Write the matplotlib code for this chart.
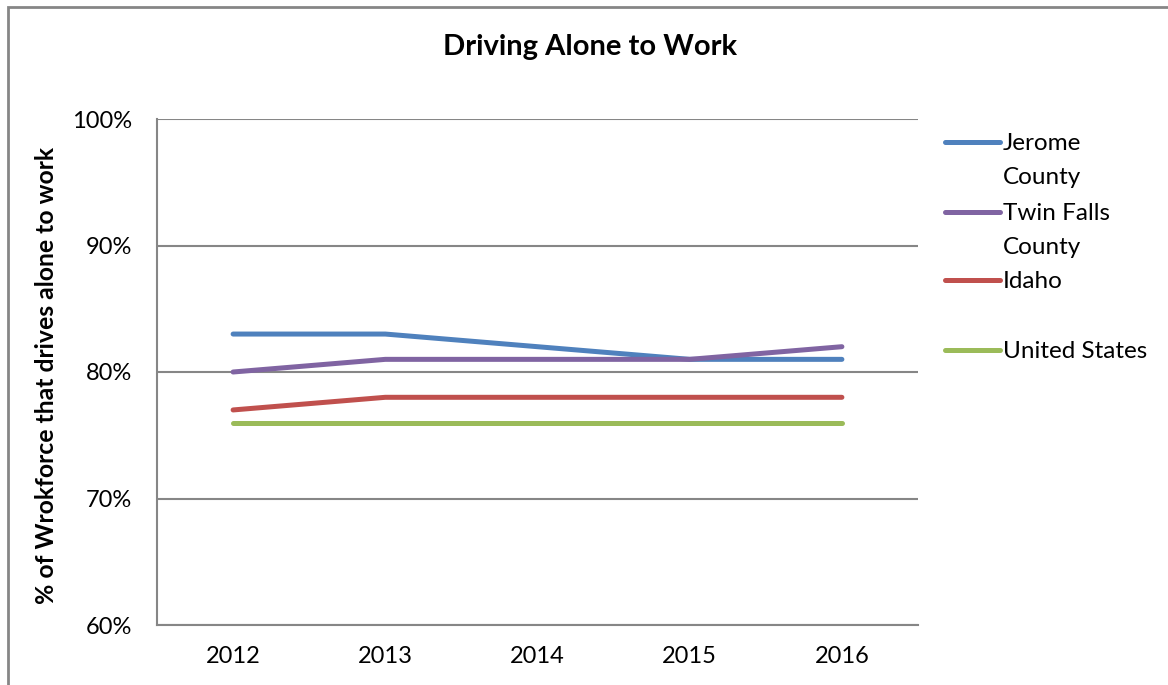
import matplotlib.pyplot as plt
from matplotlib.lines import Line2D
from matplotlib.patches import Rectangle
from matplotlib.ticker import PercentFormatter

plt.rcParams['font.family'] = ['Lato', 'DejaVu Sans']

years = ['2012', '2013', '2014', '2015', '2016']
jerome = [83, 83, 82, 81, 81]
twin_falls = [80, 81, 81, 81, 82]
idaho = [77, 78, 78, 78, 78]
united_states = [76, 76, 76, 76, 76]

series = [
    ('Jerome\nCounty', jerome, '#4F81BD'),
    ('Twin Falls\nCounty', twin_falls, '#8064A2'),
    ('Idaho', idaho, '#C0504D'),
    ('United States', united_states, '#9BBB59'),
]

grey = '#868686'

fig = plt.figure(figsize=(11.68, 6.85), dpi=100)
ax = fig.add_axes([157 / 1168, 60 / 685, 761 / 1168, 506 / 685])

x = range(len(years))
for label, vals, color in series:
    ax.plot(x, vals, color=color, linewidth=3.6, solid_capstyle='round',
            solid_joinstyle='round', zorder=3)

ax.set_xlim(-0.5, len(years) - 0.5)
ax.set_ylim(60, 100)
ax.set_yticks(range(60, 101, 10))
ax.yaxis.set_major_formatter(PercentFormatter(decimals=0))
ax.set_xticks(list(x))
ax.set_xticklabels(years)
ax.tick_params(length=0, labelsize=17, colors='black')
ax.tick_params(axis='y', pad=18)
ax.tick_params(axis='x', pad=15)

ax.grid(axis='y', color=grey, linewidth=1.5)
ax.set_axisbelow(True)
for side in ['top', 'right']:
    ax.spines[side].set_visible(False)
for side in ['left', 'bottom']:
    ax.spines[side].set_color(grey)
    ax.spines[side].set_linewidth(1.5)

fig.text(590 / 1168, 1 - 47 / 685, 'Driving Alone to Work', ha='center',
         va='center', fontsize=21, fontweight='bold')
fig.text(47 / 1168, 1 - 375 / 685, '% of Wrokforce that drives alone to work',
         rotation=90, ha='center', va='center', fontsize=17.8, fontweight='bold')

# legend entries, one text slot per series
legend_y = [142, 212, 280, 350]
for (label, vals, color), y in zip(series, legend_y):
    yf = 1 - y / 685
    fig.add_artist(Line2D([945 / 1168, 1000 / 1168], [yf, yf], color=color,
                          linewidth=3.6, solid_capstyle='round',
                          transform=fig.transFigure))
    fig.text(1003 / 1168, 1 - (y - 9) / 685, label, ha='left', va='top',
             fontsize=17.5, linespacing=1.75)

# chart frame
fig.add_artist(Rectangle((8 / 1168, -0.1), 1.2, 1.1 - 7 / 685, fill=False,
                         edgecolor=grey, linewidth=2,
                         transform=fig.transFigure))

fig.savefig('out.png', dpi=100)
